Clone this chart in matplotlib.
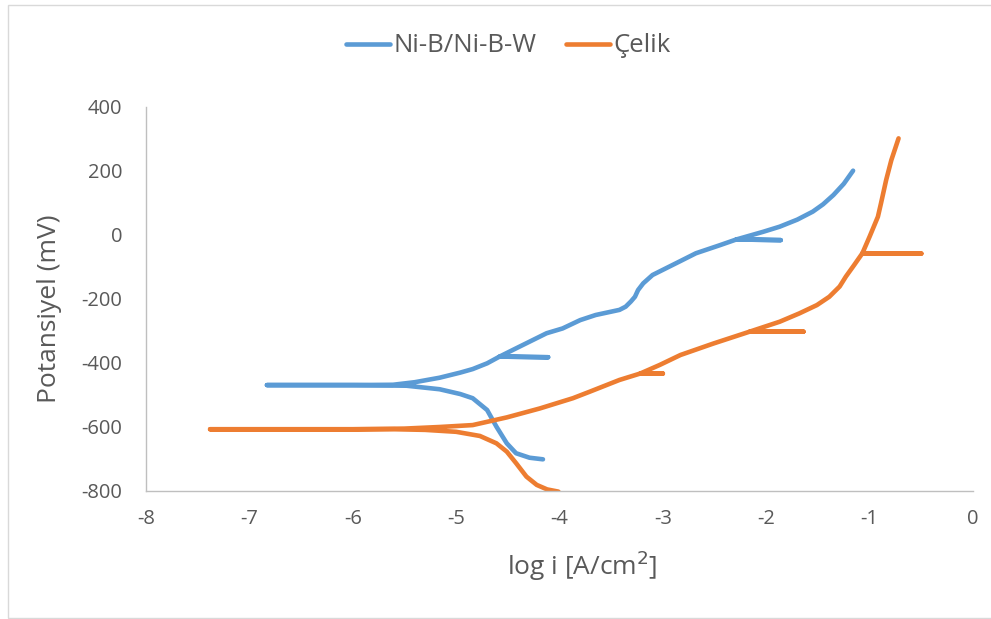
import matplotlib
matplotlib.use("Agg")
import matplotlib.pyplot as plt
from matplotlib.patches import Rectangle

plt.rcParams['font.family'] = ['Open Sans', 'DejaVu Sans']
plt.rcParams['axes.unicode_minus'] = False

# Ni-B/Ni-B-W polarization curve (log i, potential mV), path order
nib_logi = [-4.16, -4.29, -4.42, -4.51, -4.61, -4.70, -4.84, -4.96, -5.16, -5.48, -6.0, -6.5, -6.83,
            -6.0, -5.61, -5.4, -5.16, -4.96, -4.84, -4.70, -4.58, -4.11, -4.58,
            -4.45, -4.125, -3.97, -3.80, -3.65, -3.42, -3.36, -3.31, -3.27, -3.24, -3.19,
            -3.10, -2.97, -2.84, -2.68, -2.45, -2.29, -1.86, -2.29, -2.03, -1.87, -1.7,
            -1.55, -1.45, -1.35, -1.25, -1.16]
nib_E = [-701, -696, -682, -651, -599, -547, -510, -497, -482, -471, -469, -469, -469,
         -469, -468, -460, -446, -430, -419, -401, -380, -382, -380,
         -359, -307, -292, -266, -250, -234, -224, -208, -193, -172, -151,
         -125, -104, -83, -57, -32, -14, -16, -14, 10, 26, 48,
         73, 96, 125, 160, 201]

# Çelik polarization curve (log i, potential mV), path order
celik_logi = [-4.01, -4.12, -4.22, -4.32, -4.42, -4.51, -4.61, -4.77, -5.0, -5.3, -5.6, -6.5, -7.38,
              -6.0, -5.5, -5.16, -4.84, -4.51, -4.19, -3.87, -3.71, -3.42, -3.22, -3.0, -3.22,
              -3.03, -2.83, -2.51, -2.16, -1.64, -2.16, -1.87, -1.68, -1.51, -1.39, -1.29,
              -1.23, -1.15, -1.07, -0.50, -1.07, -1.0, -0.92, -0.89, -0.84, -0.79, -0.72]
celik_E = [-802, -795, -781, -755, -713, -677, -651, -628, -615, -609, -607, -607, -607,
           -607, -605, -600, -594, -570, -542, -510, -490, -453, -433, -433, -433,
           -406, -375, -339, -302, -302, -302, -271, -245, -219, -193, -161,
           -130, -94, -57, -58, -57, -5, 57, 99, 172, 234, 302]

x_ticks = [-8, -7, -6, -5, -4, -3, -2, -1, 0]
y_ticks = [-800, -600, -400, -200, 0, 200, 400]

W, H = 991, 619
fig = plt.figure(figsize=(W / 100, H / 100), dpi=100)
ax = fig.add_axes([146 / W, 1 - 491 / H, (973 - 146) / W, (491 - 107) / H])

blue = '#5B9BD5'
orange = '#ED7D31'
lw = 3.3
ax.plot(nib_logi, nib_E, color=blue, lw=lw, solid_capstyle='round',
        solid_joinstyle='round', label='Ni-B/Ni-B-W')
ax.plot(celik_logi, celik_E, color=orange, lw=lw, solid_capstyle='round',
        solid_joinstyle='round', label='Çelik')

ax.set_xlim(-8, 0)
ax.set_ylim(-800, 400)
ax.set_xticks(x_ticks)
ax.set_yticks(y_ticks)
txt = '#595959'
ax.tick_params(length=0, labelsize=14.5, colors=txt)
ax.tick_params(axis='x', pad=13)
ax.tick_params(axis='y', pad=17)
for s in ['top', 'right']:
    ax.spines[s].set_visible(False)
for s in ['left', 'bottom']:
    ax.spines[s].set_color('#BFBFBF')
    ax.spines[s].set_linewidth(1.0)

ax.set_xlabel('log i [A/cm$^2$]', fontsize=19, color=txt, va='center')
ax.xaxis.set_label_coords((582 - 146) / 827, (491 - 566) / 384)
ax.set_ylabel('Potansiyel (mV)', fontsize=19, color=txt, va='center')
ax.yaxis.set_label_coords((50 - 146) / 827, (491 - 309) / 384)

leg = fig.legend(loc='center', bbox_to_anchor=(508.5 / W, 1 - 46 / H), ncol=2,
                 frameon=False, fontsize=18.5, handlelength=1.7, handletextpad=0.16,
                 columnspacing=1.13)
for t in leg.get_texts():
    t.set_color(txt)

fig.patches.append(Rectangle((8 / W, 1 - 618 / H), 1.2, (618 - 5) / H,
                             transform=fig.transFigure, fill=False,
                             edgecolor='#D9D9D9', lw=1.0))

fig.savefig('out.png', dpi=100)
